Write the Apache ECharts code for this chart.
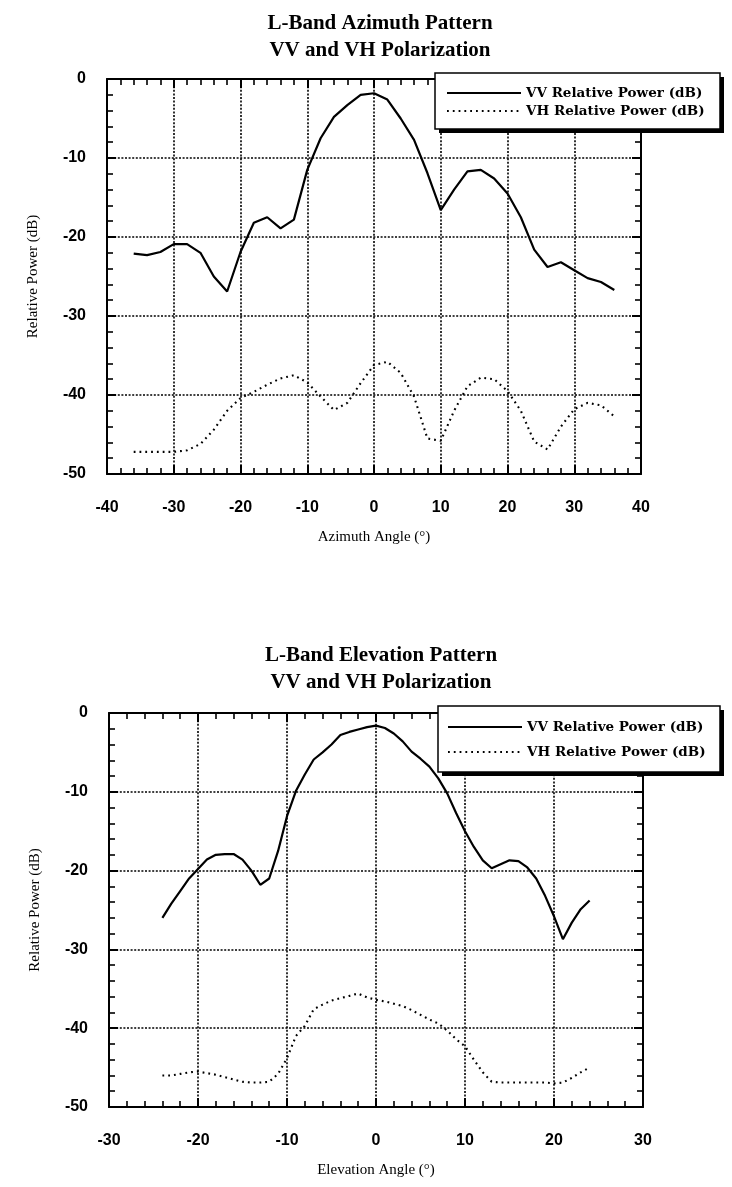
<!DOCTYPE html>
<html><head><meta charset="utf-8">
<script src="https://cdn.jsdelivr.net/npm/echarts@6/dist/echarts.min.js"></script>
<style>html,body{margin:0;padding:0;background:#fff}#c{width:732px;height:1187px}</style>
</head><body><div id="c"></div>
<script>
// ---- data ----
const azAngles = [-36,-34,-32,-30,-28,-26,-24,-22,-20,-18,-16,-14,-12,-10,-8,-6,-4,-2,0,2,4,6,8,10,12,14,16,18,20,22,24,26,28,30,32,34,36];
const azVV = [-22.1,-22.3,-21.9,-20.9,-20.9,-22.0,-25.0,-26.9,-21.9,-18.2,-17.5,-18.9,-17.8,-11.5,-7.5,-4.8,-3.3,-2.0,-1.8,-2.6,-5.0,-7.7,-11.9,-16.6,-14.0,-11.7,-11.5,-12.6,-14.5,-17.5,-21.6,-23.8,-23.2,-24.2,-25.2,-25.7,-26.7];
const azVH = [-47.2,-47.2,-47.2,-47.2,-47.0,-46.2,-44.4,-42.0,-40.4,-39.6,-38.7,-37.9,-37.5,-38.4,-40.2,-41.9,-41.0,-38.5,-36.2,-35.8,-37.2,-40.2,-45.5,-45.8,-42.0,-38.9,-37.8,-38.0,-39.5,-42.0,-45.9,-46.9,-44.0,-41.8,-41.0,-41.3,-42.7];
const elAngles = [-24,-23,-22,-21,-20,-19,-18,-17,-16,-15,-14,-13,-12,-11,-10,-9,-8,-7,-6,-5,-4,-3,-2,-1,0,1,2,3,4,5,6,7,8,9,10,11,12,13,14,15,16,17,18,19,20,21,22,23,24];
const elVV = [-26.0,-24.2,-22.6,-21.0,-19.8,-18.6,-18.0,-17.9,-17.9,-18.6,-20.0,-21.8,-21.0,-17.5,-13.1,-9.9,-7.8,-5.9,-5.0,-4.0,-2.8,-2.4,-2.1,-1.8,-1.6,-1.9,-2.6,-3.6,-4.9,-5.8,-6.8,-8.3,-10.2,-12.7,-15.0,-17.0,-18.7,-19.7,-19.2,-18.7,-18.8,-19.6,-21.0,-23.2,-25.8,-28.7,-26.6,-24.9,-23.8];
const elVH = [-46.0,-46.0,-45.8,-45.6,-45.5,-45.7,-45.9,-46.2,-46.5,-46.8,-46.9,-46.9,-46.8,-45.8,-43.8,-41.0,-39.7,-37.6,-37.0,-36.5,-36.2,-35.9,-35.6,-36.1,-36.4,-36.6,-36.9,-37.2,-37.7,-38.3,-38.9,-39.4,-40.3,-41.4,-42.3,-44.0,-45.6,-46.8,-46.9,-46.9,-46.9,-46.9,-46.9,-46.9,-47.0,-46.9,-46.3,-45.6,-45.0];
const seriesNames = ['VV Relative Power (dB)', 'VH Relative Power (dB)'];
const titles = ['L-Band Azimuth Pattern\nVV and VH Polarization', 'L-Band Elevation Pattern\nVV and VH Polarization'];
const xNames = ['Azimuth Angle (°)', 'Elevation Angle (°)'];
const yName = 'Relative Power (dB)';
const azRange = [-40, 40], elRange = [-30, 30], dbRange = [-50, 0];

// ---- chart ----
const chart = echarts.init(document.getElementById('c'), null, {renderer: 'canvas'});
const pair = (xs, ys) => xs.map((x, i) => [x, ys[i]]);
const LBL = {fontFamily: 'Liberation Sans', fontWeight: 'bold', fontSize: 16, color: '#000'};
const NAME = {fontFamily: 'Liberation Serif', fontSize: 15, color: '#000'};
const axLine = {show: true, onZero: false, lineStyle: {color: '#000', width: 2}};
const split = {show: true, lineStyle: {color: '#000', width: 1.6, type: [2, 1.6]}};
const tick = {show: true, inside: true, length: 9, lineStyle: {color: '#000', width: 2}};
const minor = {show: true, splitNumber: 5, length: 6, lineStyle: {color: '#000', width: 1.6}};

function xAx(grid, range, main, name) {
  return {
    type: 'value', gridIndex: grid, min: range[0], max: range[1], interval: 10,
    position: main ? 'bottom' : 'top',
    axisLine: axLine, axisTick: tick, minorTick: minor,
    splitLine: main ? split : {show: false},
    axisLabel: main ? Object.assign({margin: 26}, LBL) : {show: false},
    name: main ? name : '', nameLocation: 'middle', nameGap: 56, nameTextStyle: NAME
  };
}
function yAx(grid, main) {
  return {
    type: 'value', gridIndex: grid, min: dbRange[0], max: dbRange[1], interval: 10,
    position: main ? 'left' : 'right',
    axisLine: axLine, axisTick: tick, minorTick: minor,
    splitLine: main ? split : {show: false},
    axisLabel: main ? Object.assign({margin: 21}, LBL) : {show: false},
    name: main ? yName : '', nameLocation: 'middle', nameGap: 66, nameTextStyle: NAME
  };
}
function lineSeries(name, xi, yi, data, dotted) {
  return {
    type: 'line', name: name, xAxisIndex: xi, yAxisIndex: yi, data: data,
    symbol: 'none', showSymbol: false, silent: true, animation: false,
    lineStyle: {color: '#000', width: dotted ? 2.1 : 2.2, type: dotted ? [1.8, 4] : 'solid'},
    itemStyle: {color: '#000'}, z: 3
  };
}
function legend(left, top, gap) {
  return {
    orient: 'vertical', left: left, top: top, data: seriesNames,
    itemWidth: 74, itemHeight: 10, itemGap: gap, padding: 0,
    itemStyle: {color: 'rgba(0,0,0,0)', borderColor: 'rgba(0,0,0,0)', borderWidth: 0},
    textStyle: {fontFamily: 'DejaVu Serif', fontWeight: 'bold', fontSize: 13.5, color: '#000'},
    backgroundColor: 'transparent', borderWidth: 0,
    selectedMode: false, z: 10
  };
}
function legendBox(x, y, w, h) {
  return [
    {type: 'rect', z: 5, silent: true, shape: {x: x + 4, y: y + 4, width: w, height: h}, style: {fill: '#000'}},
    {type: 'rect', z: 6, silent: true, shape: {x: x, y: y, width: w, height: h}, style: {fill: '#fff', stroke: '#000', lineWidth: 1.5}}
  ];
}
const titleStyle = {fontFamily: 'Liberation Serif', fontWeight: 'bold', fontSize: 21, lineHeight: 27, color: '#000'};

chart.setOption({
  animation: false,
  backgroundColor: '#fff',
  title: [
    {text: titles[0], left: 375, top: 5, textAlign: 'center', textStyle: titleStyle},
    {text: titles[1], left: 376, top: 637, textAlign: 'center', textStyle: titleStyle}
  ],
  graphic: legendBox(435, 73, 285, 56).concat(legendBox(438, 706, 282, 66)),
  legend: [legend(446, 86, 4), legend(447, 720, 11)],
  grid: [
    {left: 107, top: 79, width: 534, height: 395, containLabel: false},
    {left: 109, top: 713, width: 534, height: 394, containLabel: false}
  ],
  xAxis: [xAx(0, azRange, true, xNames[0]), xAx(0, azRange, false), xAx(1, elRange, true, xNames[1]), xAx(1, elRange, false)],
  yAxis: [yAx(0, true), yAx(0, false), yAx(1, true), yAx(1, false)],
  series: [
    lineSeries(seriesNames[0], 0, 0, pair(azAngles, azVV), false),
    lineSeries(seriesNames[1], 0, 0, pair(azAngles, azVH), true),
    lineSeries(seriesNames[0], 2, 2, pair(elAngles, elVV), false),
    lineSeries(seriesNames[1], 2, 2, pair(elAngles, elVH), true)
  ]
});
</script></body></html>
